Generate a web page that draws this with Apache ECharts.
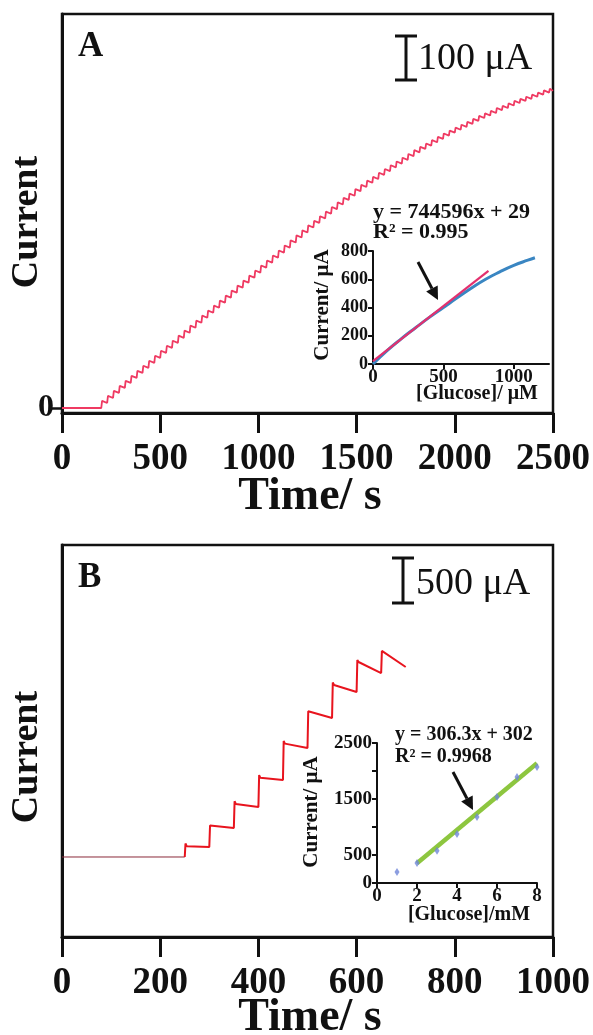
<!DOCTYPE html>
<html><head><meta charset="utf-8">
<script src="https://cdn.jsdelivr.net/npm/echarts@6/dist/echarts.min.js"></script>
<style>html,body{margin:0;padding:0;background:#fff}#c{width:593px;height:1035px}</style>
</head><body><div id="c"></div>
<script>
// ===== Panel A: amperometric response (current in µA vs time in s) =====
const aBaseTimes = [0, 200];
const aBaseCurrent = [0, 0];
const aStepTimes = [200,230,260,290,320,350,380,410,440,470,500,530,560,590,620,650,680,710,740,770,800,830,860,890,920,950,980,1010,1040,1070,1100,1130,1160,1190,1220,1250,1280,1310,1340,1370,1400,1430,1460,1490,1520,1550,1580,1610,1640,1670,1700,1730,1760,1790,1820,1850,1880,1910,1940,1970,2000,2030,2060,2090,2120,2150,2180,2210,2240,2270,2300,2330,2360,2390,2420,2450,2480];
const aStepCurrent = [12,24,36,48,60,72,84,96,108,120,132,144,156,168,180,192,204,216,228,240,252,264,276,288,300,312,324,336,348,360,372,384,396,408,420,432,443,454,465,476,487,498,508,519,529,539,548,558,567,576,585,594,603,612,620,628,636,644,652,659,666,673,680,687,694,700,706,713,718,724,730,735,740,745,750,755,759];
const aEndTime = 2500;
const aXTicks = [0, 500, 1000, 1500, 2000, 2500];
// Panel A inset: calibration
const aInsetGlucose = [0,100,200,300,400,500,600,700,800,900,1000,1100,1150];
const aInsetCurrent = [0,95,178,255,330,400,470,538,600,652,698,735,752];
const aFitGlucose = [0, 820];
const aFitCurrent = [20, 660];

// ===== Panel B =====
const bBaseTimes = [0, 250];
const bBaseCurrent = [0, 0];
const bStepTimes = [250,300,350,400,450,500,550,600,650];
const bStepPeak  = [150,350,620,910,1290,1620,1940,2190,2290];
const bStepStart = [120,330,590,880,1260,1600,1911,2167,2278];
const bStepEnd   = [111,322,556,856,1211,1544,1833,2044,2111];
const bEndTime = 700;
const bXTicks = [0,200,400,600,800,1000];
// Panel B inset
const bInsetGlucose = [1,2,3,4,5,6,7,8];
const bInsetCurrent = [196,357,577,875,1178,1536,1893,2071];
const bFitGlucose = [2, 8];
const bFitCurrent = [352, 2137];
const bInsetYLabels = [0, 500, 1500, 2500];

const FONT = '"Liberation Serif","Times New Roman",serif';
const BLACK = '#111';

// build traces
const aTrace = aBaseTimes.map((t,i)=>[t, aBaseCurrent[i]]);
let prev = aBaseCurrent[aBaseCurrent.length-1];
aStepTimes.forEach((t,i)=>{
  const next = i+1 < aStepTimes.length ? aStepTimes[i+1] : aEndTime;
  aTrace.push([t, prev]);
  aTrace.push([t+4, aStepCurrent[i] + 5]);
  aTrace.push([next, aStepCurrent[i]]);
  prev = aStepCurrent[i];
});
const bBase = bBaseTimes.map((t,i)=>[t, bBaseCurrent[i]]);
const bTrace = [];
prev = bBaseCurrent[bBaseCurrent.length-1];
bStepTimes.forEach((t,i)=>{
  const next = i+1 < bStepTimes.length ? bStepTimes[i+1] : bEndTime;
  bTrace.push([t, prev]);
  bTrace.push([t+1.5, bStepPeak[i]]);
  bTrace.push([t+4, bStepStart[i]]);
  bTrace.push([next, bStepEnd[i]]);
  prev = bStepEnd[i];
});

function arrow(x1,y1,x2,y2){
  const ang = Math.atan2(y2-y1, x2-x1), L = 13, W = 6.5;
  const bx = x2 - L*Math.cos(ang), by = y2 - L*Math.sin(ang);
  const px = -Math.sin(ang), py = Math.cos(ang);
  return [
    {type:'line', shape:{x1:x1,y1:y1,x2:bx,y2:by}, style:{stroke:BLACK,lineWidth:3}},
    {type:'polygon', shape:{points:[[x2,y2],[bx+px*W,by+py*W],[bx-px*W,by-py*W]]}, style:{fill:BLACK}}
  ];
}
function scaleBar(x,y1,y2){
  return [
    {type:'line', shape:{x1:x,y1:y1,x2:x,y2:y2}, style:{stroke:BLACK,lineWidth:3}},
    {type:'line', shape:{x1:x-11,y1:y1,x2:x+11,y2:y1}, style:{stroke:BLACK,lineWidth:3}},
    {type:'line', shape:{x1:x-11,y1:y2,x2:x+11,y2:y2}, style:{stroke:BLACK,lineWidth:3}}
  ];
}
function txt(x,y,s,size,opts){
  opts = opts||{};
  return {type:'text', x:x, y:y, rotation:opts.rot||0, z:10,
    style:{text:s, fill:BLACK, font:(opts.weight||'bold')+' '+size+'px '+FONT,
      align:opts.align||'left', verticalAlign:'middle', textAlign:opts.align||'left', textVerticalAlign:'middle'}};
}
const plain = v => String(v);

const mainX = (grid, max, interval)=>({
  type:'value', gridIndex:grid, min:0, max:max, interval:interval,
  axisLine:{onZero:false,lineStyle:{color:BLACK,width:3}},
  axisTick:{inside:false,length:20,lineStyle:{color:BLACK,width:3}},
  axisLabel:{color:BLACK,fontFamily:FONT,fontWeight:'bold',fontSize:37,margin:28,formatter:plain},
  splitLine:{show:false}
});
const insetAxis = (grid, min, max, interval, extra)=>Object.assign({
  type:'value', gridIndex:grid, min:min, max:max, interval:interval,
  axisLine:{show:true,onZero:false,lineStyle:{color:BLACK,width:2}},
  axisTick:{show:true,inside:false,length:5,lineStyle:{color:BLACK,width:2}},
  axisLabel:{color:BLACK,fontFamily:FONT,fontWeight:'bold',fontSize:19,margin:4,formatter:plain},
  splitLine:{show:false}
}, extra||{});

const chart = echarts.init(document.getElementById('c'));
const option = {
  animation:false,
  backgroundColor:'#fff',
  grid:[
    {left:62, right:38, top:14, height:399, show:true, borderColor:BLACK, borderWidth:2.5},
    {left:373, top:251, width:176, height:113},
    {left:62, right:38, top:545, height:392, show:true, borderColor:BLACK, borderWidth:2.5},
    {left:377, top:743, width:160, height:140}
  ],
  xAxis:[
    mainX(0, aXTicks[aXTicks.length-1], aXTicks[1]-aXTicks[0]),
    insetAxis(1, 0, 1250, 500, {axisLabel:{color:BLACK,fontFamily:FONT,fontWeight:'bold',fontSize:19,margin:4,showMaxLabel:false,formatter:plain}}),
    mainX(2, bXTicks[bXTicks.length-1], bXTicks[1]-bXTicks[0]),
    insetAxis(3, 0, 8, 2)
  ],
  yAxis:[
    {type:'value', gridIndex:0, min:-12, max:943,
      axisLine:{show:true,onZero:false,lineStyle:{color:BLACK,width:3}},
      axisTick:{show:true,inside:false,length:10,customValues:[0],lineStyle:{color:BLACK,width:2.5}},
      axisLabel:{show:true,customValues:[0],color:BLACK,fontFamily:FONT,fontWeight:'bold',fontSize:32,margin:8},
      splitLine:{show:false}},
    insetAxis(1, 0, 800, 200, {axisLabel:{color:BLACK,fontFamily:FONT,fontWeight:'bold',fontSize:18,margin:5}}),
    {type:'value', gridIndex:2, min:-889, max:3467,
      axisLine:{show:true,onZero:false,lineStyle:{color:BLACK,width:3}},
      axisTick:{show:false}, axisLabel:{show:false}, splitLine:{show:false}},
    insetAxis(3, 0, 2500, 500, {axisLabel:{color:BLACK,fontFamily:FONT,fontWeight:'bold',fontSize:19,margin:5,
      formatter:v=>bInsetYLabels.indexOf(v)>=0?String(v):''}})
  ],
  series:[
    {type:'line', xAxisIndex:0, yAxisIndex:0, data:aTrace, showSymbol:false, lineStyle:{color:'#ef3a62',width:1.8}},
    {type:'line', xAxisIndex:1, yAxisIndex:1, data:aInsetGlucose.map((g,i)=>[g,aInsetCurrent[i]]), smooth:true, showSymbol:false, lineStyle:{color:'#3a86c2',width:3}},
    {type:'line', xAxisIndex:1, yAxisIndex:1, data:aFitGlucose.map((g,i)=>[g,aFitCurrent[i]]), showSymbol:false, lineStyle:{color:'#e3306e',width:2.2}},
    {type:'line', xAxisIndex:2, yAxisIndex:2, data:bBase, showSymbol:false, lineStyle:{color:'#8b2a3a',width:1}},
    {type:'line', xAxisIndex:2, yAxisIndex:2, data:bTrace, showSymbol:false, lineStyle:{color:'#e8141e',width:2}},
    {type:'line', xAxisIndex:3, yAxisIndex:3, data:bFitGlucose.map((g,i)=>[g,bFitCurrent[i]]), showSymbol:false, lineStyle:{color:'#8dc63f',width:4.5}},
    {type:'scatter', xAxisIndex:3, yAxisIndex:3, z:5, data:bInsetGlucose.map((g,i)=>[g,bInsetCurrent[i]]), symbol:'diamond', symbolSize:[5,8], itemStyle:{color:'#6f86d8'}}
  ],
  graphic:[].concat(
    [txt(78,47,'A',35), txt(78,578,'B',35)],
    scaleBar(406,36,80), [txt(418,59,'100 μA',38,{weight:'normal'})],
    scaleBar(403,558,603), [txt(416,584,'500 μA',38,{weight:'normal'})],
    [txt(27,222,'Current',38,{rot:Math.PI/2,align:'center'}), txt(27,757,'Current',38,{rot:Math.PI/2,align:'center'})],
    [txt(310,497,'Time/ s',46,{align:'center'}), txt(310,1018,'Time/ s',46,{align:'center'})],
    [txt(373,212,'y = 744596x + 29',22), txt(373,232,'R² = 0.995',22)],
    arrow(418,262,438,300),
    [txt(323,305,'Current/ μA',21,{rot:Math.PI/2,align:'center'}), txt(477,394,'[Glucose]/ μM',20,{align:'center'})],
    [txt(395,735,'y = 306.3x + 302',20), txt(395,757,'R² = 0.9968',20)],
    arrow(453,772,473,810),
    [txt(312,812,'Current/ μA',21,{rot:Math.PI/2,align:'center'}), txt(469,915,'[Glucose]/mM',20,{align:'center'})]
  )
};
chart.setOption(option);
</script></body></html>
